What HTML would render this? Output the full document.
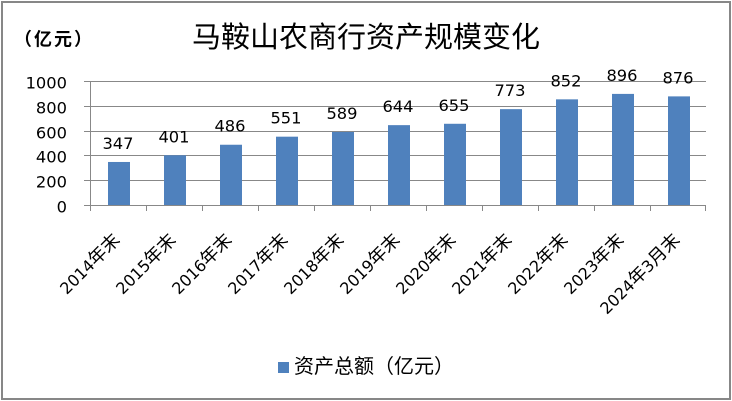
<!DOCTYPE html>
<html>
<head>
<meta charset="utf-8">
<style>
  html, body { margin: 0; padding: 0; background: #fff; }
  svg { display: block; }
  .num { font-family: "DejaVu Sans", "Liberation Sans", sans-serif; font-size: 16.3px; fill: #000; }
  .cjk { font-family: "Liberation Sans", "Noto Sans CJK SC", sans-serif; fill: #000; }
  .xl { font-family: "DejaVu Sans", "Noto Sans CJK SC", sans-serif; font-size: 16px; fill: #000; }
  .xl .c { font-family: "Noto Sans CJK SC", sans-serif; font-size: 18px; }
</style>
</head>
<body>
<svg width="732" height="401" viewBox="0 0 732 401" xmlns="http://www.w3.org/2000/svg">
  <rect x="0" y="0" width="732" height="401" fill="#fff"/>
  <rect x="2" y="2" width="728" height="397" fill="none" stroke="#878787" stroke-width="2"/>

  <!-- Title -->
  <text class="cjk" x="366" y="47" font-size="29" text-anchor="middle">马鞍山农商行资产规模变化</text>

  <!-- Unit -->
  <text class="cjk" x="14" y="45.5" font-size="18" font-weight="bold" letter-spacing="2">（亿元）</text>

  <!-- Gridlines -->
  <g stroke="#888" stroke-width="1" shape-rendering="crispEdges">
    <line x1="84" y1="81.5" x2="706" y2="81.5"/>
    <line x1="84" y1="106.5" x2="706" y2="106.5"/>
    <line x1="84" y1="131.5" x2="706" y2="131.5"/>
    <line x1="84" y1="155.5" x2="706" y2="155.5"/>
    <line x1="84" y1="180.5" x2="706" y2="180.5"/>
    <line x1="84" y1="205.5" x2="706" y2="205.5"/>
    <line x1="90.5" y1="81" x2="90.5" y2="211"/>
    <line x1="146.5" y1="205" x2="146.5" y2="211"/>
    <line x1="202.5" y1="205" x2="202.5" y2="211"/>
    <line x1="258.5" y1="205" x2="258.5" y2="211"/>
    <line x1="314.5" y1="205" x2="314.5" y2="211"/>
    <line x1="370.5" y1="205" x2="370.5" y2="211"/>
    <line x1="426.5" y1="205" x2="426.5" y2="211"/>
    <line x1="482.5" y1="205" x2="482.5" y2="211"/>
    <line x1="538.5" y1="205" x2="538.5" y2="211"/>
    <line x1="594.5" y1="205" x2="594.5" y2="211"/>
    <line x1="650.5" y1="205" x2="650.5" y2="211"/>
    <line x1="705.5" y1="205" x2="705.5" y2="211"/>
  </g>

  <!-- Y tick labels -->
  <g class="num" text-anchor="end">
    <text x="67" y="88.5">1000</text>
    <text x="67" y="113.5">800</text>
    <text x="67" y="138.5">600</text>
    <text x="67" y="162.5">400</text>
    <text x="67" y="187.5">200</text>
    <text x="67" y="212.5">0</text>
  </g>

  <!-- Bars -->
  <g fill="#4F81BD">
    <rect x="108" y="161.97" width="22" height="43.03"/>
    <rect x="164" y="155.28" width="22" height="49.72"/>
    <rect x="220" y="144.74" width="22" height="60.26"/>
    <rect x="276" y="136.68" width="22" height="68.32"/>
    <rect x="332" y="131.96" width="22" height="73.04"/>
    <rect x="388" y="125.14" width="22" height="79.86"/>
    <rect x="444" y="123.78" width="22" height="81.22"/>
    <rect x="500" y="109.15" width="22" height="95.85"/>
    <rect x="556" y="99.35" width="22" height="105.65"/>
    <rect x="612" y="93.90" width="22" height="111.10"/>
    <rect x="668" y="96.38" width="22" height="108.62"/>
  </g>

  <!-- Data labels -->
  <g class="num" text-anchor="middle">
    <text x="118" y="148.97">347</text>
    <text x="174" y="142.28">401</text>
    <text x="230" y="131.74">486</text>
    <text x="286" y="123.68">551</text>
    <text x="342" y="118.96">589</text>
    <text x="398" y="112.14">644</text>
    <text x="454" y="110.78">655</text>
    <text x="510" y="96.15">773</text>
    <text x="566" y="86.35">852</text>
    <text x="622" y="80.9">896</text>
    <text x="678" y="83.38">876</text>
  </g>

  <!-- X labels -->
  <g class="xl" text-anchor="end">
    <text transform="translate(121,241) rotate(-45)">2014<tspan class="c">年末</tspan></text>
    <text transform="translate(177,241) rotate(-45)">2015<tspan class="c">年末</tspan></text>
    <text transform="translate(233,241) rotate(-45)">2016<tspan class="c">年末</tspan></text>
    <text transform="translate(289,241) rotate(-45)">2017<tspan class="c">年末</tspan></text>
    <text transform="translate(345,241) rotate(-45)">2018<tspan class="c">年末</tspan></text>
    <text transform="translate(401,241) rotate(-45)">2019<tspan class="c">年末</tspan></text>
    <text transform="translate(457,241) rotate(-45)">2020<tspan class="c">年末</tspan></text>
    <text transform="translate(513,241) rotate(-45)">2021<tspan class="c">年末</tspan></text>
    <text transform="translate(569,241) rotate(-45)">2022<tspan class="c">年末</tspan></text>
    <text transform="translate(625,241) rotate(-45)">2023<tspan class="c">年末</tspan></text>
    <text transform="translate(681,241) rotate(-45)">2024<tspan class="c">年</tspan>3<tspan class="c">月末</tspan></text>
  </g>

  <!-- Legend -->
  <rect x="278" y="362" width="11" height="11" fill="#4F81BD"/>
  <text class="cjk" x="294" y="373" font-size="20">资产总额（亿元）</text>
</svg>
</body>
</html>
